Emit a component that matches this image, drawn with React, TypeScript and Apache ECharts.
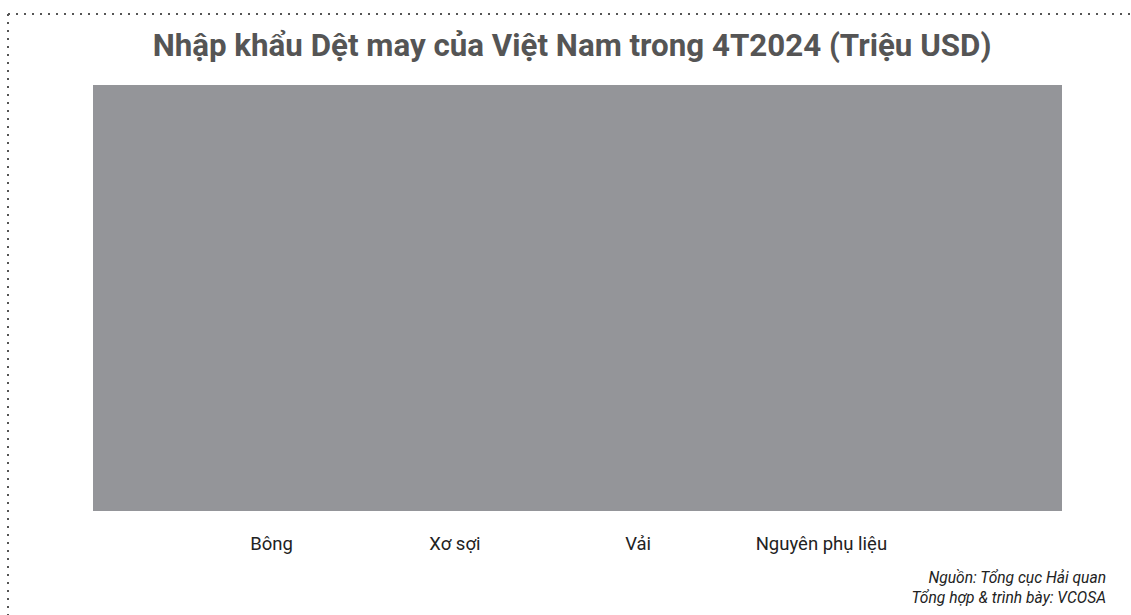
import React, { useEffect, useRef } from "react";
import * as echarts from "echarts";

const TITLE = "Nhập khẩu Dệt may của Việt Nam trong 4T2024 (Triệu USD)";
const categories = ["Bông", "Xơ sợi", "Vải", "Nguyên phụ liệu"];
// No bars are visible in the reference; values unknown
const values: (number | null)[] = [null, null, null, null];
const sourceLines = ["Nguồn: Tổng cục Hải quan", "Tổng hợp & trình bày: VCOSA"];

export default function App() {
  const ref = useRef<HTMLDivElement>(null);
  useEffect(() => {
    if (!ref.current) return;
    const chart = echarts.init(ref.current, undefined, { renderer: "svg" });
    const dotStyle = { stroke: "#555", lineWidth: 2, lineDash: [2, 6] };
    chart.setOption({
      animation: false,
      backgroundColor: "#fff",
      title: {
        text: TITLE,
        left: 567,
        textAlign: "center",
        top: 25,
        textStyle: { fontFamily: "Roboto", fontWeight: "bold", fontSize: 31.3, color: "#555" },
      },
      grid: { left: 180, right: 218, top: 85, bottom: 104 },
      xAxis: {
        type: "category",
        data: categories,
        axisLine: { show: false },
        axisTick: { show: false },
        axisLabel: { fontFamily: "Roboto", fontSize: 18.5, color: "#222", margin: 23 },
      },
      yAxis: { type: "value", show: false, splitLine: { show: false } },
      series: [{ type: "bar", data: values, itemStyle: { color: "#949599" } }],
      graphic: [
        { type: "rect", z: -10, shape: { x: 93, y: 85, width: 969, height: 426 }, style: { fill: "#949599" } },
        { type: "line", shape: { x1: 8, y1: 14, x2: 1131, y2: 14 }, style: dotStyle },
        { type: "line", shape: { x1: 8, y1: 14, x2: 8, y2: 615 }, style: dotStyle },
        {
          type: "text",
          right: 25,
          top: 568,
          style: {
            text: sourceLines.join("\n"),
            fontFamily: "Roboto",
            fontStyle: "italic",
            fontSize: 15.6,
            lineHeight: 20,
            fill: "#222",
            textAlign: "right",
          },
        },
      ],
    });
    return () => chart.dispose();
  }, []);
  return <div ref={ref} style={{ position: "fixed", left: 0, top: 0, width: 1131, height: 615 }} />;
}
